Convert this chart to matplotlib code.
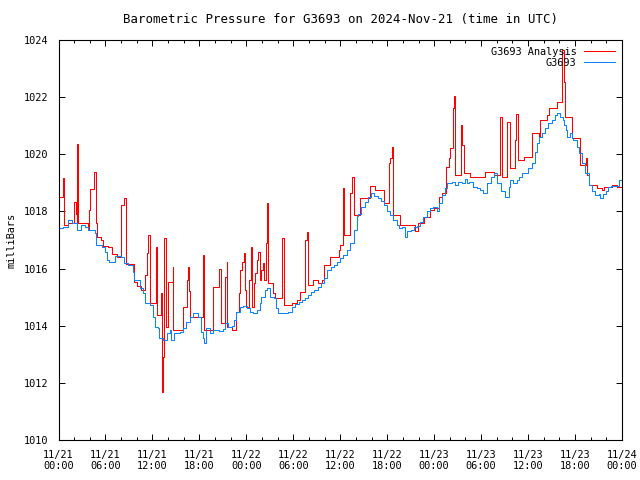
import matplotlib
matplotlib.use("Agg")
import matplotlib.pyplot as plt
import matplotlib.dates as mdates
import numpy as np
from datetime import datetime, timedelta

# hours since 2024-11-21 00:00 UTC, pressure in mb
analysis_h = [0.0, 0.55, 0.65, 1.2, 2.0, 2.2, 2.3, 2.4, 2.55, 3.8, 3.94, 4.03, 4.5, 4.75, 4.88,
              5.43, 5.65, 6.37, 6.8, 7.44, 7.99, 8.42, 8.59, 9.65, 10.0, 10.55, 11.06, 11.27,
              11.48, 11.7, 12.43, 12.55, 13.1, 13.28, 13.4, 13.53, 13.7, 13.96, 14.6, 14.68,
              15.96, 16.39, 16.6, 16.73, 16.82, 18.52, 18.65, 19.8, 20.57, 20.74, 21.29, 21.5,
              21.59, 22.15, 22.7, 23.0, 23.2, 23.42, 23.64, 23.85, 23.98, 24.4, 24.57, 24.7,
              25.0, 25.13, 25.34, 25.55, 25.77, 25.85, 26.11, 26.28, 26.53, 26.7, 26.83, 27.47,
              27.69, 28.54, 28.75, 29.82, 30.46, 30.88, 31.52, 31.74, 31.82, 32.58, 33.22,
              33.66, 33.86, 34.72, 35.78, 36.0, 36.34, 36.5, 37.28, 37.49, 37.7, 38.55, 39.74,
              40.47, 41.54, 42.17, 42.39, 42.6, 42.69, 43.67, 45.59, 45.88, 46.65, 47.5, 47.93,
              48.57, 49.0, 49.55, 49.85, 50.06, 50.4, 50.58, 50.7, 51.43, 51.56, 51.77, 52.62,
              54.54, 55.6, 56.46, 56.67, 57.31, 57.74, 58.38, 58.5, 58.67, 59.44, 60.51, 61.36,
              61.57, 62.43, 62.64, 63.71, 64.35, 64.64, 64.77, 65.63, 66.69, 67.46, 67.54,
              67.75, 68.82, 69.46, 69.67, 70.74, 71.38, 72.0]
analysis_p = [1018.5, 1019.16, 1017.52, 1017.6, 1018.34, 1017.9, 1017.55, 1020.36, 1017.58,
              1017.35, 1018.05, 1018.77, 1019.37, 1017.58, 1017.12, 1017.0, 1016.8, 1016.77,
              1016.5, 1016.42, 1018.23, 1018.46, 1016.15, 1015.54, 1015.4, 1015.25, 1015.78,
              1016.53, 1017.17, 1014.8, 1016.77, 1014.38, 1015.13, 1011.69, 1012.9, 1017.06,
              1013.97, 1015.54, 1016.07, 1013.85, 1014.66, 1015.6, 1016.07, 1015.2, 1014.32,
              1016.47, 1013.85, 1015.37, 1016.0, 1014.08, 1015.72, 1016.24, 1013.97, 1013.85,
              1014.49, 1015.13, 1015.95, 1016.24, 1016.53, 1015.25, 1014.67, 1015.6, 1016.77,
              1014.67, 1015.48, 1015.84, 1016.3, 1016.59, 1015.6, 1015.95, 1016.18, 1015.6,
              1016.88, 1018.28, 1015.48, 1015.13, 1014.96, 1017.06, 1014.73, 1014.78, 1014.9,
              1015.19, 1017.0, 1017.29, 1015.43, 1015.6, 1015.5, 1015.6, 1016.13, 1016.42,
              1016.65, 1016.83, 1018.81, 1017.17, 1018.63, 1019.22, 1017.88, 1018.46, 1018.89,
              1018.75, 1018.28, 1019.69, 1019.86, 1020.27, 1017.88, 1017.53, 1017.3, 1017.59,
              1017.82, 1018.05, 1018.11, 1018.52, 1018.63, 1019.57, 1019.86, 1020.21, 1021.61,
              1022.04, 1019.27, 1021.03, 1020.33, 1019.33, 1019.22, 1019.39, 1019.27, 1021.32,
              1019.2, 1021.14, 1019.51, 1020.5, 1021.41, 1019.8, 1019.92, 1020.73, 1020.62,
              1021.2, 1021.37, 1021.61, 1021.84, 1023.65, 1022.54, 1021.32, 1020.56, 1019.63,
              1019.86, 1019.27, 1018.93, 1018.81, 1018.75, 1018.87, 1018.93, 1018.87, 1018.87]

station_h = [0.0, 0.6, 1.2, 1.7, 2.3, 2.9, 3.4, 3.8, 4.6, 4.8, 5.5, 5.9, 6.2, 6.5, 7.2, 8.0,
             8.4, 8.9, 9.5, 9.7, 10.4, 10.8, 11.0, 11.7, 12.1, 12.3, 12.7, 12.9, 13.3, 13.8,
             14.2, 14.4, 14.8, 15.5, 15.9, 16.3, 16.75, 17.2, 17.8, 18.25, 18.5, 18.6, 18.9,
             19.3, 19.8, 20.5, 21.0, 21.3, 21.7, 22.2, 22.4, 22.7, 23.2, 23.6, 24.1, 24.5,
             24.9, 25.3, 25.7, 25.9, 26.4, 26.7, 27.0, 27.5, 27.8, 28.0, 28.8, 29.3, 29.8,
             30.2, 30.7, 31.1, 31.5, 31.9, 32.2, 32.7, 33.1, 33.5, 33.9, 34.3, 34.8, 35.2,
             35.6, 36.0, 36.4, 36.9, 37.3, 37.7, 38.1, 38.3, 38.7, 39.1, 39.5, 39.9, 40.3,
             40.8, 41.2, 41.6, 42.0, 42.4, 42.8, 43.2, 43.5, 43.9, 44.3, 44.5, 45.0, 45.4,
             45.8, 46.2, 46.6, 47.1, 47.5, 47.9, 48.3, 48.6, 49.0, 49.4, 49.6, 50.3, 50.7,
             51.1, 51.6, 51.9, 52.2, 52.5, 52.9, 53.5, 53.8, 54.2, 54.7, 55.0, 55.3, 55.6,
             56.0, 56.5, 57.1, 57.5, 57.7, 58.1, 58.6, 58.8, 59.2, 59.6, 60.0, 60.5, 60.9,
             61.1, 61.4, 61.8, 62.2, 62.6, 63.1, 63.5, 63.7, 64.1, 64.4, 64.6, 64.8, 65.0,
             65.4, 65.6, 65.8, 66.2, 66.5, 66.9, 67.3, 67.8, 68.2, 68.6, 69.0, 69.2, 69.6,
             70.0, 70.2, 70.6, 71.0, 71.6, 72.0]
station_p = [1017.41, 1017.45, 1017.7, 1017.6, 1017.35, 1017.52, 1017.45, 1017.35, 1017.23,
             1016.83, 1016.77, 1016.59, 1016.3, 1016.24, 1016.44, 1016.42, 1016.2, 1016.13,
             1015.89, 1015.6, 1015.31, 1015.13, 1014.78, 1014.73, 1014.32, 1013.97, 1013.91,
             1013.56, 1013.5, 1013.73, 1013.85, 1013.5, 1013.73, 1013.79, 1013.91, 1014.14,
             1014.32, 1014.43, 1014.32, 1013.79, 1013.56, 1013.38, 1013.91, 1013.75, 1013.85,
             1013.8, 1013.9, 1014.08, 1013.97, 1014.0, 1014.2, 1014.49, 1014.67, 1014.7,
             1014.61, 1014.49, 1014.43, 1014.55, 1014.78, 1015.02, 1015.25, 1015.31, 1015.02,
             1014.98, 1014.61, 1014.43, 1014.43, 1014.49, 1014.66, 1014.75, 1014.84, 1014.9,
             1014.96, 1015.07, 1015.19, 1015.25, 1015.37, 1015.48, 1015.66, 1015.95, 1016.07,
             1016.12, 1016.24, 1016.36, 1016.47, 1016.65, 1016.9, 1017.35, 1017.85, 1017.9,
             1018.17, 1018.34, 1018.52, 1018.63, 1018.55, 1018.46, 1018.35, 1018.23, 1018.0,
             1017.88, 1017.7, 1017.53, 1017.41, 1017.45, 1017.12, 1017.3, 1017.35, 1017.47,
             1017.5, 1017.64, 1017.82, 1018.0, 1018.11, 1018.15, 1018.0, 1018.28, 1018.58,
             1018.81, 1018.98, 1019.04, 1018.93, 1019.04, 1019.0, 1019.12, 1019.0, 1019.04,
             1018.87, 1018.81, 1018.75, 1018.63, 1018.98, 1018.98, 1019.22, 1019.33, 1018.98,
             1018.7, 1018.52, 1018.87, 1019.1, 1018.98, 1019.1, 1019.22, 1019.33, 1019.33,
             1019.51, 1019.69, 1020.09, 1020.38, 1020.62, 1020.73, 1020.91, 1021.08, 1021.2,
             1021.37, 1021.43, 1021.31, 1021.2, 1021.02, 1020.85, 1020.62, 1020.73, 1020.58,
             1020.5, 1020.27, 1020.03, 1019.69, 1019.33, 1018.93, 1018.7, 1018.58, 1018.6,
             1018.46, 1018.6, 1018.7, 1018.87, 1018.9, 1018.9, 1019.1, 1018.87]

start = datetime(2024, 11, 21)
def to_time(hours):
    return [start + timedelta(hours=h) for h in hours]

plt.rcParams['font.family'] = 'DejaVu Sans Mono'
plt.rcParams['font.size'] = 7.4

fig = plt.figure(figsize=(6.4, 4.8), dpi=100)
ax = fig.add_axes([58.5/640, 40/480, (622-58.5)/640, 400/480])

ax.plot(to_time(analysis_h), analysis_p, color='#ff0000', lw=0.75, drawstyle='steps-post',
        label='G3693 Analysis')
ax.plot(to_time(station_h), station_p, color='#0a84ff', lw=0.75, drawstyle='steps-post',
        label='G3693')

ax.set_xlim(start, start + timedelta(hours=72))
ax.set_ylim(1010, 1024)
ax.set_yticks(np.arange(1010, 1025, 2))
ax.xaxis.set_major_locator(mdates.HourLocator(byhour=range(0, 24, 6)))
ax.xaxis.set_minor_locator(mdates.HourLocator(byhour=range(0, 24, 2)))
ax.xaxis.set_major_formatter(mdates.DateFormatter('%m/%d\n%H:%M'))
ax.tick_params(which='both', direction='in', top=True, right=True, width=0.7)
ax.tick_params(which='major', length=4, pad=7)
ax.tick_params(which='minor', length=2)
for s in ax.spines.values():
    s.set_linewidth(0.8)

ax.set_title('Barometric Pressure for G3693 on 2024-Nov-21 (time in UTC)', pad=12)
ax.set_ylabel('milliBars')
ax.yaxis.set_label_coords(-0.074, 0.5)
leg = ax.legend(loc='upper right', frameon=False, markerfirst=False, handlelength=3.0,
                borderaxespad=0.25, labelspacing=0.1, handletextpad=0.8)
for t in leg.get_texts():
    t.set_ha('right')

fig.savefig('out.png', dpi=100)
